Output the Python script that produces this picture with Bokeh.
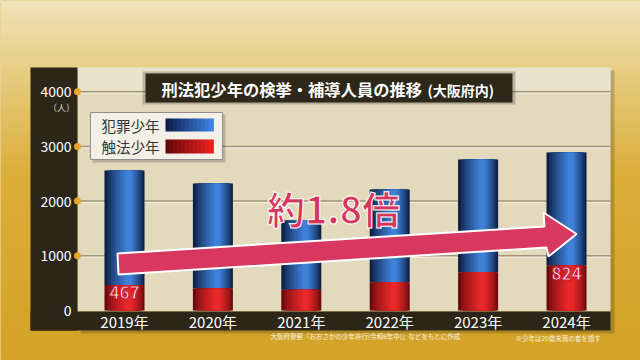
import numpy as np
from bokeh.plotting import figure
from bokeh.models import Range1d
from bokeh.core.properties import value
from bokeh.embed import file_html
from bokeh.resources import INLINE

# ---------------- data ----------------
years = ["2019年", "2020年", "2021年", "2022年", "2023年", "2024年"]
hanzai = [2092, 1922, 1267, 1695, 2060, 2064]     # 犯罪少年
shokuhou = [467, 400, 378, 517, 700, 824]         # 触法少年
y_ticks = [0, 1000, 2000, 3000, 4000]
y_tick_labels = ["0", "1000", "2000", "3000", "4000"]
unit_label = "（人）"
title_main = "刑法犯少年の検挙・補導人員の推移"
title_sub = "(大阪府内)"
legend_labels = ["犯罪少年", "触法少年"]
highlight_text = "約1.8倍"
note_source = "大阪府警察『おおさかの少年非行(令和6年中)』などをもとに作成"
note_def = "※少年は20歳未満の者を指す"

FONT = value("Noto Sans CJK JP")

# ---------------- scale set-up (pixel helpers for decorations) ----------------
W, H = 640, 360
X0, DX = 124.0, 88.4          # px of first category centre, px per category
Y0, DY = 310.0, 0.0547        # px of zero line, px per person
xs, xe = -X0 / DX, (W - X0) / DX
ys, ye = -(H - Y0) / DY, Y0 / DY


def X(px):
    return xs + px / W * (xe - xs)


def Y(py):
    return ye - py / H * (ye - ys)


def hex2rgb(h):
    h = h.lstrip("#")
    return np.array([int(h[i:i + 2], 16) for i in (0, 2, 4)], dtype=float)


def mix(c1, c2, t):
    a, b = hex2rgb(c1), hex2rgb(c2)
    c = a + (b - a) * min(max(t, 0), 1)
    return "#%02x%02x%02x" % tuple(int(round(v)) for v in c)


idx = list(range(len(years)))
totals = [a + b for a, b in zip(hanzai, shokuhou)]

p = figure(width=W, height=H, x_range=Range1d(xs, xe), y_range=Range1d(ys, ye),
           output_backend="svg", toolbar_location=None, min_border=0,
           x_axis_type=None, y_axis_type=None)
p.grid.visible = False
p.outline_line_color = None
p.background_fill_color = "#d6a72c"
p.border_fill_color = "#d6a72c"

# ---------------- background gradient ----------------
step = 6
tops, bots, cols = [], [], []
for py in range(0, H, step):
    if py < 170:
        c = mix("#efe2b4", "#dbae38", py / 170)
    else:
        c = mix("#dbae38", "#d3a226", (py - 170) / 190)
    tops.append(Y(py))
    bots.append(Y(py + step + 0.5))
    cols.append(c)
p.quad(left=X(0), right=X(W), top=tops, bottom=bots, fill_color=cols, line_color=None)

# panel shadow + panel
p.quad(left=X(80), right=X(614), top=Y(70), bottom=Y(333), fill_color="#000000",
       fill_alpha=0.18, line_color=None)
p.quad(left=X(77), right=X(610), top=Y(67), bottom=Y(311), fill_color="#e3d9bd", line_color=None)
p.quad(left=X(77), right=X(610), top=Y(67), bottom=Y(90), fill_color="#e9e2cc", line_color=None)

# dark axis bands
band = "#2b2618"
p.quad(left=X(30), right=X(77), top=Y(67), bottom=Y(330), fill_color=band, line_color=None)
p.quad(left=X(30), right=X(610), top=Y(311), bottom=Y(330), fill_color=band, line_color=None)

# grid lines + orange tick dots
gy = y_ticks[1:]
p.segment(x0=[X(77)] * len(gy), x1=[X(610)] * len(gy), y0=gy, y1=gy,
          line_color="#a0957a", line_width=1.5)
p.segment(x0=[X(77)] * len(gy), x1=[X(610)] * len(gy),
          y0=[v - 1.6 / DY for v in gy], y1=[v - 1.6 / DY for v in gy],
          line_color="#f3eee0", line_width=1)
p.scatter(x=[X(77)] * len(gy), y=gy, size=7, fill_color="#e8a62a", line_color=None)

# ---------------- stacked bars (cylindrical shading by layering) ----------------
bw = 40 / DX
nl = 9
for k in range(nl):
    t = k / (nl - 1)
    frac = 1.0 - 0.85 * t
    off = 0.10 * t * bw
    p.vbar(x=[i + off for i in idx], width=bw * frac, bottom=shokuhou, top=totals,
           fill_color=mix("#0d1f45", "#3f80d8", t ** 0.8), line_color=None)
for k in range(nl):
    t = k / (nl - 1)
    frac = 1.0 - 0.85 * t
    off = 0.10 * t * bw
    p.vbar(x=[i + off for i in idx], width=bw * frac, bottom=0, top=shokuhou,
           fill_color=mix("#6a090b", "#e8282a", t ** 0.7), line_color=None)

# ---------------- axis labels ----------------
p.text(x=[X(71)] * len(y_ticks), y=y_ticks, text=y_tick_labels, text_align="right",
       text_baseline="middle", text_color="white", text_font=FONT, text_font_size="14px")
p.text(x=[X(61)], y=[Y(107)], text=[unit_label], text_align="center", text_baseline="middle",
       text_color="#d9d2c2", text_font=FONT, text_font_size="9px")
p.text(x=idx, y=[Y(320.5)] * len(idx), text=years, text_align="center", text_baseline="middle",
       text_color="white", text_font=FONT, text_font_size="15px")

# ---------------- title box ----------------
p.quad(left=X(142), right=X(515), top=Y(71), bottom=Y(104), fill_color="#000000",
       fill_alpha=0.2, line_color=None)
p.quad(left=X(145), right=X(512), top=Y(73), bottom=Y(102), fill_color="#2d2819", line_color=None)
p.text(x=[X(161)], y=[Y(88)], text=[title_main], text_align="left", text_baseline="middle",
       text_color="white", text_font=FONT, text_font_size="16.3px", text_font_style="bold")
p.text(x=[X(427)], y=[Y(89)], text=[title_sub], text_align="left", text_baseline="middle",
       text_color="white", text_font=FONT, text_font_size="14px", text_font_style="bold")

# ---------------- legend ----------------
p.quad(left=X(92), right=X(225), top=Y(114), bottom=Y(162), fill_color="#000000",
       fill_alpha=0.18, line_color=None)
p.quad(left=X(90), right=X(222), top=Y(112), bottom=Y(159), fill_color="#f3f0e7",
       line_color="#8e8e8e", line_width=1)
n = 12
sw_l, sw_r = 165, 213
edges = np.linspace(sw_l, sw_r, n + 1)
for (ty, by, c1, c2) in [(118, 131, "#0b1c4c", "#3d82e2"), (139, 153, "#660508", "#ea1e1e")]:
    p.quad(left=[X(e) for e in edges[:-1]], right=[X(e + 0.4) for e in edges[1:]],
           top=Y(ty), bottom=Y(by),
           fill_color=[mix(c1, c2, k / (n - 1)) for k in range(n)], line_color=None)
p.text(x=[X(101)] * 2, y=[Y(124.5), Y(146)], text=legend_labels, text_align="left",
       text_baseline="middle", text_color="#363636", text_font=FONT, text_font_size="14.5px")

# ---------------- arrow annotation ----------------
ax = [117, 544, 543, 576, 548, 546, 118]
ay = [253, 226, 212, 233.5, 256, 247, 274]
p.patch(x=[X(v) for v in ax], y=[Y(v) for v in ay], fill_color="#d8385f",
        line_color="white", line_width=2)

p.text(x=[X(333)], y=[Y(207)], text=[highlight_text], text_align="center",
       text_baseline="middle", text_color="#d6365c", text_outline_color="white",
       text_font=FONT, text_font_size="38px", text_font_style="bold")

# value labels for first and last 触法少年
p.text(x=[idx[0], idx[-1]], y=[shokuhou[0], shokuhou[-1]],
       text=[str(shokuhou[0]), str(shokuhou[-1])], y_offset=8,
       text_align="center", text_baseline="middle", text_color="#fde6ea",
       text_outline_color="#c41a36", text_font=FONT,
       text_font_size="17px", text_font_style="bold")

# ---------------- footnotes ----------------
p.text(x=[X(270)], y=[Y(335)], text=[note_source], text_align="left", text_baseline="middle",
       text_color="#f4f0e6", text_font=FONT, text_font_size="6.5px")
p.text(x=[X(515)], y=[Y(337)], text=[note_def], text_align="left", text_baseline="middle",
       text_color="#f4f0e6", text_font=FONT, text_font_size="6.5px")

open("out.html", "w").write(file_html(p, INLINE))
